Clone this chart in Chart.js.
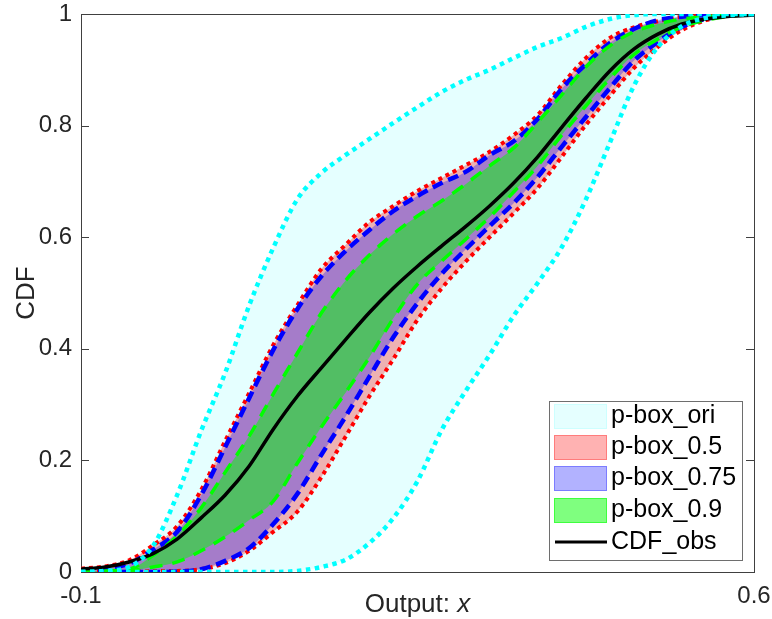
<!DOCTYPE html>
<html>
<head>
<meta charset="utf-8">
<script src="https://cdn.jsdelivr.net/npm/chart.js@4.4.0/dist/chart.umd.min.js"></script>
<style>
  html, body { margin: 0; padding: 0; background: #fff; }
</style>
</head>
<body>
<canvas id="cdfChart" width="772" height="619"></canvas>
<script>
// x grid (Output: x)
const xs = [-0.1, -0.075, -0.05, -0.025, 0, 0.025, 0.05, 0.075, 0.1, 0.125, 0.15, 0.175, 0.2, 0.225,
  0.25, 0.275, 0.3, 0.325, 0.35, 0.375, 0.4, 0.425, 0.45, 0.475, 0.5, 0.525, 0.55, 0.575, 0.6]

// p-box_ori bounds
const oriUpper = [0, 0.002, 0.009, 0.047, 0.138, 0.253, 0.357, 0.478, 0.581, 0.668, 0.715, 0.747, 0.776, 0.805,
  0.833, 0.860, 0.882, 0.900, 0.921, 0.941, 0.957, 0.977, 0.991, 0.998, 1, 1, 1, 1, 1]
const oriLower = [0, 0, 0, 0, 0, 0, 0, 0, 0, 0.002, 0.009, 0.022, 0.052, 0.097,
  0.163, 0.254, 0.324, 0.389, 0.459, 0.518, 0.582, 0.667, 0.769, 0.871, 0.941, 0.978, 0.993, 0.998, 1]

// p-box_0.5 bounds
const p50Upper = [0.006, 0.010, 0.021, 0.048, 0.082, 0.147, 0.235, 0.321, 0.407, 0.478, 0.543, 0.586, 0.627, 0.656,
  0.683, 0.706, 0.729, 0.753, 0.783, 0.819, 0.873, 0.921, 0.957, 0.976, 0.987, 0.995, 0.998, 1, 1]
const p50Lower = [0, 0, 0, 0.002, 0.002, 0.005, 0.016, 0.038, 0.072, 0.108, 0.170, 0.242, 0.315, 0.382,
  0.452, 0.508, 0.556, 0.600, 0.643, 0.688, 0.744, 0.801, 0.853, 0.903, 0.941, 0.971, 0.989, 0.997, 1]

// p-box_0.75 bounds
const p75Upper = [0.003, 0.006, 0.015, 0.040, 0.072, 0.138, 0.224, 0.312, 0.398, 0.471, 0.530, 0.575, 0.613, 0.647,
  0.674, 0.697, 0.717, 0.747, 0.772, 0.812, 0.866, 0.910, 0.948, 0.973, 0.989, 0.995, 0.998, 1, 1]
const p75Lower = [0, 0, 0, 0, 0.001, 0.005, 0.020, 0.043, 0.086, 0.140, 0.210, 0.278, 0.350, 0.421,
  0.482, 0.534, 0.578, 0.620, 0.661, 0.708, 0.762, 0.815, 0.867, 0.916, 0.950, 0.977, 0.991, 0.998, 1]

// p-box_0.9 bounds
const p90Upper = [0.001, 0.002, 0.005, 0.030, 0.065, 0.115, 0.179, 0.244, 0.319, 0.392, 0.464, 0.522, 0.568, 0.606,
  0.638, 0.665, 0.695, 0.728, 0.760, 0.806, 0.855, 0.905, 0.943, 0.968, 0.982, 0.991, 0.995, 0.998, 1]
const p90Lower = [0, 0, 0.002, 0.009, 0.018, 0.038, 0.063, 0.093, 0.127, 0.195, 0.260, 0.321, 0.385, 0.455,
  0.516, 0.557, 0.596, 0.636, 0.681, 0.728, 0.783, 0.835, 0.884, 0.927, 0.955, 0.977, 0.989, 0.996, 1]

// CDF_obs
const cdfObs = [0.005, 0.009, 0.018, 0.033, 0.059, 0.097, 0.138, 0.190, 0.256, 0.315, 0.366, 0.416, 0.465, 0.509,
  0.548, 0.584, 0.619, 0.656, 0.697, 0.744, 0.797, 0.849, 0.898, 0.937, 0.964, 0.982, 0.991, 0.996, 0.998]

const xTicks = [-0.1, 0.6]
const yTicks = [0, 0.2, 0.4, 0.6, 0.8, 1]
const legendLabels = ['p-box_ori', 'p-box_0.5', 'p-box_0.75', 'p-box_0.9', 'CDF_obs']

const fontFam = '"Liberation Sans", Arial, Helvetica, sans-serif'
const txtColor = '#262626'

function pts(arr) {
  return xs.map((x, i) => ({ x: x, y: arr[i] }))
}

function lineSet(label, arr, color, width, dash, extra) {
  return Object.assign({
    label: label,
    data: pts(arr),
    borderColor: color,
    borderWidth: width,
    borderDash: dash,
    borderCapStyle: 'butt',
    backgroundColor: 'rgba(0,0,0,0)',
    pointRadius: 0,
    fill: false,
    cubicInterpolationMode: 'monotone'
  }, extra || {})
}

const datasets = [
  lineSet('ori_up', oriUpper, '#00ffff', 4.5, [4.5, 4.5]),                 // 0
  lineSet('ori_lo', oriLower, '#00ffff', 4.5, [4.5, 4.5]),                 // 1
  lineSet('CDF_obs', cdfObs, '#000000', 3.5, []),                          // 2
  lineSet('p90_up', p90Upper, '#00ff00', 3.5, [13, 10],
    { fill: 4, backgroundColor: 'rgba(0,255,0,0.5)' }),                   // 3
  lineSet('p90_lo', p90Lower, '#00ff00', 3.5, [13, 10]),                   // 4
  lineSet('p75_up', p75Upper, '#0000ff', 4.5, [11, 6],
    { fill: 6, backgroundColor: 'rgba(0,0,255,0.3)' }),                   // 5
  lineSet('p75_lo', p75Lower, '#0000ff', 4.5, [11, 6]),                    // 6
  lineSet('p50_up', p50Upper, '#ff0000', 4, [4, 4],
    { fill: 8, backgroundColor: 'rgba(255,0,0,0.3)' }),                   // 7
  lineSet('p50_lo', p50Lower, '#ff0000', 4, [4, 4]),                       // 8
  lineSet('ori_fill', oriUpper, 'rgba(0,0,0,0)', 0, [],
    { fill: 1, backgroundColor: 'rgba(0,255,255,0.1)' })                  // 9
]

// which dataset gives each legend entry its look
const legendSrc = [9, 7, 5, 3, 2]

// box, inner ticks
const frame = {
  id: 'frame',
  beforeDatasetsDraw(chart) {
    const { ctx, chartArea: a, scales } = chart
    ctx.save()
    ctx.strokeStyle = '#404040'
    ctx.lineWidth = 1
    ctx.strokeRect(Math.round(a.left) + 0.5, Math.round(a.top) + 0.5,
      Math.round(a.right - a.left), Math.round(a.bottom - a.top))
    ctx.beginPath()
    scales.y.ticks.forEach(t => {
      const py = Math.round(scales.y.getPixelForValue(t.value)) + 0.5
      ctx.moveTo(a.left, py); ctx.lineTo(a.left + 8, py)
      ctx.moveTo(a.right - 8, py); ctx.lineTo(a.right, py)
    })
    ctx.stroke()
    ctx.restore()
  }
}

const labelsAndLegend = {
  id: 'labelsAndLegend',
  afterDraw(chart) {
    const { ctx, chartArea: a } = chart
    ctx.save()
    ctx.fillStyle = txtColor
    // y title
    ctx.font = '26px ' + fontFam
    ctx.textAlign = 'center'
    ctx.textBaseline = 'middle'
    ctx.translate(27, (a.top + a.bottom) / 2)
    ctx.rotate(-Math.PI / 2)
    ctx.fillText('CDF', 0, 0)
    ctx.setTransform(1, 0, 0, 1, 0, 0)

    // x title, x in italic
    ctx.textAlign = 'left'
    ctx.textBaseline = 'alphabetic'
    const t1 = 'Output: ', t2 = 'x'
    ctx.font = '26px ' + fontFam
    const w1 = ctx.measureText(t1).width
    ctx.font = 'italic 26px ' + fontFam
    const w2 = ctx.measureText(t2).width
    const x0 = (a.left + a.right) / 2 - (w1 + w2) / 2
    ctx.font = '26px ' + fontFam
    ctx.fillText(t1, x0, 612)
    ctx.font = 'italic 26px ' + fontFam
    ctx.fillText(t2, x0 + w1, 612)

    // legend
    const bx = 549, by = 401, bw = 193, bh = 159
    ctx.fillStyle = '#ffffff'
    ctx.fillRect(bx, by, bw, bh)
    ctx.strokeStyle = '#6e6e6e'
    ctx.lineWidth = 1
    ctx.strokeRect(bx + 0.5, by + 0.5, bw, bh)
    const rows = [416.5, 447.5, 478.5, 510.5, 542]
    ctx.font = '25px ' + fontFam
    ctx.textBaseline = 'middle'
    legendSrc.forEach((di, k) => {
      const ds = chart.data.datasets[di]
      const cy = rows[k]
      if (ds.fill !== false) {
        ctx.fillStyle = ds.backgroundColor
        ctx.fillRect(554, cy - 12.5, 53, 25)
        ctx.strokeStyle = ds.backgroundColor
        ctx.strokeRect(554.5, cy - 12, 52, 24)
      } else {
        ctx.strokeStyle = ds.borderColor
        ctx.lineWidth = 3
        ctx.beginPath()
        ctx.moveTo(555, cy); ctx.lineTo(607, cy)
        ctx.stroke()
        ctx.lineWidth = 1
      }
      ctx.fillStyle = '#000000'
      ctx.fillText(legendLabels[k], 611, cy)
    })
    ctx.restore()
  }
}

new Chart(document.getElementById('cdfChart'), {
  type: 'line',
  data: { datasets: datasets },
  options: {
    responsive: false,
    animation: false,
    events: [],
    layout: { padding: { top: 14, right: 18, left: 0, bottom: 0 } },
    plugins: {
      legend: { display: false },
      tooltip: { enabled: false },
      filler: { drawTime: 'beforeDatasetsDraw' }
    },
    scales: {
      x: {
        type: 'linear',
        min: -0.1,
        max: 0.6,
        grid: { display: false, drawTicks: false },
        border: { display: false },
        afterBuildTicks: s => { s.ticks = xTicks.map(v => ({ value: v })) },
        afterFit: s => { s.height = 47; s.paddingLeft = 0; s.paddingRight = 0 },
        ticks: {
          padding: 12,
          maxRotation: 0,
          autoSkip: false,
          color: txtColor,
          font: { family: fontFam, size: 24, lineHeight: 1 },
          callback: v => String(v)
        }
      },
      y: {
        type: 'linear',
        min: 0,
        max: 1,
        grid: { display: false, drawTicks: false },
        border: { display: false },
        afterBuildTicks: s => { s.ticks = yTicks.map(v => ({ value: v })) },
        afterFit: s => { s.width = 81; s.paddingTop = 0; s.paddingBottom = 0 },
        ticks: {
          padding: 9,
          color: txtColor,
          font: { family: fontFam, size: 24, lineHeight: 1 },
          callback: v => String(v)
        }
      }
    }
  },
  plugins: [frame, labelsAndLegend]
})
</script>
</body>
</html>
